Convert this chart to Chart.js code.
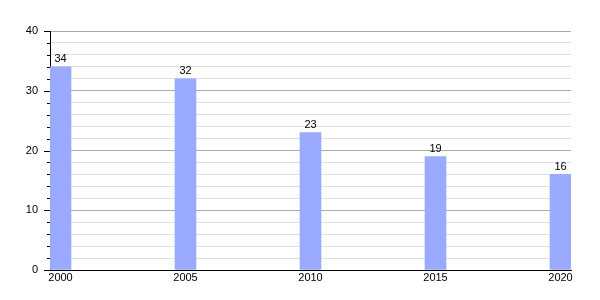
<!DOCTYPE html>
<html>
<head>
<meta charset="utf-8">
<script src="https://cdn.jsdelivr.net/npm/chart.js@4/dist/chart.umd.min.js"></script>
<style>
    html, body { margin: 0; padding: 0; background: #fff; }
    #wrap { width: 600px; height: 300px; }
</style>
</head>
<body>
<div id="wrap"><canvas id="chart"></canvas></div>
<script>
const years = [2000, 2005, 2010, 2015, 2020];
const values = [34, 32, 23, 19, 16];
const yTicks = [0, 10, 20, 30, 40];

const BarColor = '#9aabff';
const FontFamily = '"Liberation Sans", Arial, sans-serif';

// value labels over each bar
const valueLabels = {
    id: 'valueLabels',
    afterDatasetsDraw: function (chart) {
        const ctx = chart.ctx;
        const meta = chart.getDatasetMeta(0);
        ctx.save();
        ctx.fillStyle = '#000';
        ctx.font = '11px ' + FontFamily;
        ctx.textAlign = 'center';
        ctx.textBaseline = 'bottom';
        meta.data.forEach(function (bar, i) {
            ctx.fillText(values[i], bar.x, bar.y - 2);
        });
        ctx.restore();
    }
};

// tick marks on the outside of the y axis, long ones at labelled values
const yTickMarks = {
    id: 'yTickMarks',
    afterDraw: function (chart) {
        const ctx = chart.ctx;
        const y = chart.scales.y;
        const left = chart.chartArea.left;
        ctx.save();
        ctx.strokeStyle = '#000';
        ctx.lineWidth = 1;
        y.ticks.forEach(function (t) {
            const py = Math.round(y.getPixelForValue(t.value)) + 0.5;
            const len = yTicks.indexOf(t.value) >= 0 ? 6 : 3;
            ctx.beginPath();
            ctx.moveTo(left - len, py);
            ctx.lineTo(left, py);
            ctx.stroke();
        });
        ctx.restore();
    }
};

const ctx = document.getElementById('chart').getContext('2d');
new Chart(ctx, {
    type: 'bar',
    data: {
        datasets: [{
            data: years.map((x, i) => ({ x: x, y: values[i] })),
            backgroundColor: BarColor,
            borderWidth: 0,
            barThickness: 21
        }]
    },
    options: {
        responsive: true,
        maintainAspectRatio: false,
        animation: false,
        layout: { padding: { top: 31, right: 29, left: 0, bottom: 0 } },
        plugins: {
            legend: { display: false },
            tooltip: { enabled: false }
        },
        scales: {
            x: {
                type: 'linear',
                offset: false,
                min: 1999.58,
                max: 2020.42,
                afterBuildTicks: function (scale) {
                    scale.ticks = years.map(v => ({ value: v }));
                },
                afterFit: function (scale) { scale.height = 30; },
                grid: { display: false, drawTicks: false, offset: false },
                border: { display: true, color: '#000', width: 1 },
                ticks: {
                    color: '#000',
                    font: { family: FontFamily, size: 11 },
                    padding: 1,
                    maxRotation: 0,
                    autoSkip: false,
                    callback: v => String(v)
                }
            },
            y: {
                min: 0,
                max: 40,
                afterFit: function (scale) { scale.width = 50; },
                grid: {
                    drawTicks: false,
                    color: c => (c.tick.value % 10 === 0 ? '#aaaaaa' : '#e0e0e0')
                },
                border: { display: true, color: '#000', width: 1 },
                ticks: {
                    stepSize: 2,
                    color: '#000',
                    padding: 12,
                    font: { family: FontFamily, size: 11 },
                    autoSkip: false,
                    callback: v => (yTicks.indexOf(v) >= 0 ? String(v) : '')
                }
            }
        }
    },
    plugins: [valueLabels, yTickMarks]
});
</script>
</body>
</html>
